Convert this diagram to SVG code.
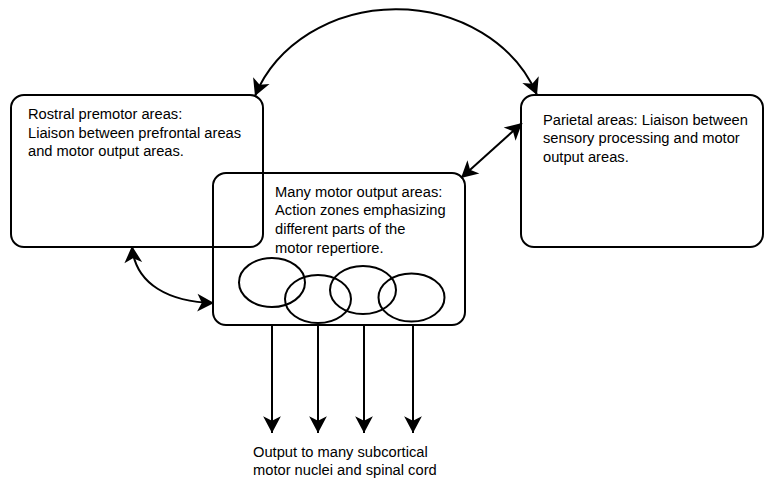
<svg xmlns="http://www.w3.org/2000/svg" width="764" height="479" viewBox="0 0 764 479">
<style>
.box{fill:none;stroke:#000;stroke-width:2}
.ell{fill:none;stroke:#000;stroke-width:2}
.con{fill:none;stroke:#000;stroke-width:2}
text{font-family:"Liberation Sans",Arial,sans-serif;font-size:14.7px;fill:#000}
</style>
<defs>
<marker id="ah" markerUnits="userSpaceOnUse" markerWidth="20" markerHeight="20" viewBox="-16 -9 18 18" refX="0" refY="0" orient="auto-start-reverse">
<path d="M0,0 L-15,-8 L-11,0 L-15,8 z" fill="#000"/>
</marker>
</defs>
<g id="rostral">
<rect class="box" x="11" y="95" width="252" height="152" rx="13"/>
<text x="28" y="119">Rostral premotor areas:</text>
<text x="28" y="138">Liaison between prefrontal areas</text>
<text x="28" y="156">and motor output areas.</text>
</g>
<g id="motor">
<rect class="box" x="213" y="173" width="252" height="152" rx="13"/>
<text x="275" y="197">Many motor output areas:</text>
<text x="275" y="215">Action zones emphasizing</text>
<text x="275" y="234">different parts of the</text>
<text x="275" y="253">motor repertiore.</text>
<ellipse class="ell" cx="272" cy="282.5" rx="33" ry="24.5"/>
<ellipse class="ell" cx="318" cy="299" rx="33" ry="24"/>
<ellipse class="ell" cx="363" cy="290" rx="33" ry="24"/>
<ellipse class="ell" cx="411.5" cy="297.5" rx="33" ry="24"/>
</g>
<g id="parietal">
<rect class="box" x="521" y="95" width="242" height="152" rx="13"/>
<text x="543" y="125">Parietal areas: Liaison between</text>
<text x="543" y="143">sensory processing and motor</text>
<text x="543" y="162">output areas.</text>
</g>
<g id="output">
<text x="253" y="457">Output to many subcortical</text>
<text x="253" y="475">motor nuclei and spinal cord</text>
</g>
<g id="connectors">
<path class="con" d="M255,96 A150,131 0 0 1 537,95" marker-start="url(#ah)" marker-end="url(#ah)"/>
<path class="con" d="M522,123 L461,178" marker-start="url(#ah)" marker-end="url(#ah)"/>
<path class="con" d="M132,246 C135,285 170,302 214,303" marker-start="url(#ah)" marker-end="url(#ah)"/>
<path class="con" d="M272,325 L272,433" marker-end="url(#ah)"/>
<path class="con" d="M318,325 L318,433" marker-end="url(#ah)"/>
<path class="con" d="M364,325 L364,433" marker-end="url(#ah)"/>
<path class="con" d="M413,325 L413,433" marker-end="url(#ah)"/>
</g>
</svg>
